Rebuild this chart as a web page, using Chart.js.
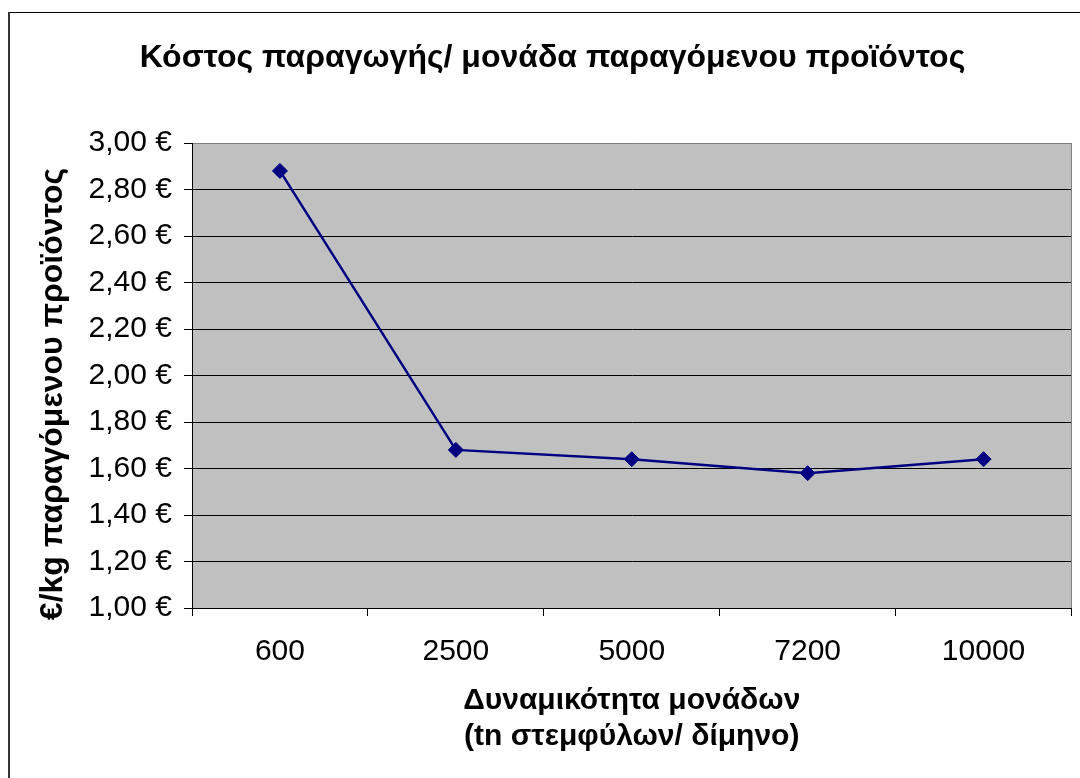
<!DOCTYPE html>
<html>
<head>
<meta charset="utf-8">
<script src="https://cdn.jsdelivr.net/npm/chart.js@4.4.1/dist/chart.umd.min.js"></script>
<style>
  html, body { margin: 0; padding: 0; background: #ffffff; }
  canvas { display: block; }
</style>
</head>
<body>
<canvas id="chart" width="1080" height="778"></canvas>
<script>
// Plant capacity categories (tn of pomace per two months)
const capacities = ['600', '2500', '5000', '7200', '10000'];
// Production cost per kg of product (€)
const costPerKg = [2.88, 1.68, 1.64, 1.58, 1.64];
// Value axis range
const yMin = 1.0;
const yMax = 3.0;
const yStep = 0.2;

const chartTitle = 'Κόστος παραγωγής/ μονάδα παραγόμενου προϊόντος';
const xAxisTitle = ['Δυναμικότητα μονάδων', '(tn στεμφύλων/ δίμηνο)'];
const yAxisTitle = '€/kg παραγόμενου προϊόντος';

const FONT = '"Liberation Sans", Arial, sans-serif';

// White sheet frame, grey plot background and grey plot border on the right
const framePlugin = {
  id: 'frame',
  beforeDraw(chart) {
    const { ctx, chartArea: a } = chart;
    ctx.save();
    ctx.fillStyle = '#ffffff';
    ctx.fillRect(0, 0, chart.width, chart.height);
    ctx.strokeStyle = '#000000';
    ctx.lineWidth = 1;
    ctx.beginPath();
    ctx.moveTo(8, 12.5);
    ctx.lineTo(chart.width, 12.5);
    ctx.stroke();
    ctx.strokeStyle = '#333333';
    ctx.lineWidth = 2;
    ctx.beginPath();
    ctx.moveTo(9, 12);
    ctx.lineTo(9, chart.height);
    ctx.stroke();
    ctx.fillStyle = '#C0C0C0';
    ctx.fillRect(a.left, a.top, a.right - a.left, a.bottom - a.top);
    ctx.restore();
  },
  beforeDatasetsDraw(chart) {
    const { ctx, chartArea: a } = chart;
    ctx.save();
    ctx.strokeStyle = '#808080';
    ctx.lineWidth = 1;
    ctx.beginPath();
    ctx.moveTo(Math.round(a.right) - 0.5, a.top);
    ctx.lineTo(Math.round(a.right) - 0.5, a.bottom);
    ctx.stroke();
    ctx.restore();
  }
};

// Rotated value-axis title
const yTitlePlugin = {
  id: 'yTitle',
  afterDraw(chart) {
    const { ctx } = chart;
    ctx.save();
    ctx.translate(53, 394);
    ctx.rotate(-Math.PI / 2);
    ctx.font = 'bold 32px ' + FONT;
    ctx.fillStyle = '#000000';
    ctx.textAlign = 'center';
    ctx.textBaseline = 'middle';
    ctx.fillText(yAxisTitle, 0, 0);
    ctx.restore();
  }
};

new Chart(document.getElementById('chart'), {
  type: 'line',
  data: {
    labels: capacities,
    datasets: [{
      data: costPerKg,
      borderColor: '#000080',
      backgroundColor: '#000080',
      borderWidth: 2.5,
      tension: 0,
      pointStyle: 'rectRot',
      pointRadius: 7.5,
      pointBorderWidth: 1,
      pointBackgroundColor: '#000080',
      pointBorderColor: '#000080'
    }]
  },
  options: {
    responsive: false,
    animation: false,
    devicePixelRatio: 1,
    color: '#000000',
    layout: { padding: { left: 30, right: 5, top: 0, bottom: 0 } },
    plugins: {
      legend: { display: false },
      tooltip: { enabled: false },
      title: {
        display: true,
        text: chartTitle,
        color: '#000000',
        font: { family: FONT, size: 32, weight: 'bold', lineHeight: 1.2 },
        padding: { top: 38.8, bottom: 65.8 }
      }
    },
    scales: {
      x: {
        type: 'category',
        offset: true,
        afterFit(scale) { scale.height = 170; },
        grid: {
          offset: true,
          drawOnChartArea: false,
          drawTicks: true,
          tickLength: 8,
          color: '#000000',
          tickColor: '#000000'
        },
        border: { display: true, color: '#000000', width: 1 },
        ticks: {
          color: '#000000',
          padding: 17.7,
          maxRotation: 0,
          autoSkip: false,
          font: { family: FONT, size: 30, lineHeight: 1.2 }
        },
        title: {
          display: true,
          text: xAxisTitle,
          color: '#000000',
          font: { family: FONT, size: 30, weight: 'bold', lineHeight: 1.2 },
          padding: { top: 0, bottom: 23 }
        }
      },
      y: {
        min: yMin,
        max: yMax,
        afterFit(scale) { scale.width = 162; },
        grid: {
          drawTicks: true,
          tickLength: 8,
          color: (c) => (c.tick && Math.abs(c.tick.value - yMax) < 1e-6 ? '#808080' : '#000000'),
          tickColor: '#000000'
        },
        border: { display: true, color: '#000000', width: 1 },
        ticks: {
          stepSize: yStep,
          color: '#000000',
          padding: 12,
          font: { family: FONT, size: 30 },
          callback: (v) => Number(v).toFixed(2).replace('.', ',') + ' €'
        }
      }
    }
  },
  plugins: [framePlugin, yTitlePlugin]
});
</script>
</body>
</html>
